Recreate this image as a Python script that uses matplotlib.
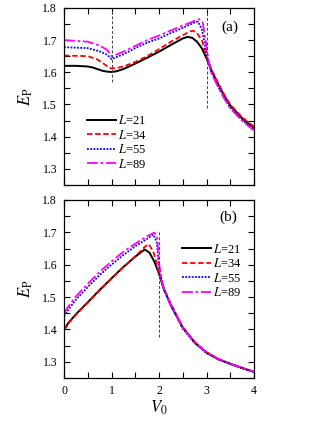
import matplotlib
matplotlib.use("Agg")
import matplotlib.pyplot as plt
from matplotlib.ticker import MultipleLocator

plt.rcParams['font.family'] = ['Liberation Serif', 'DejaVu Serif']
plt.rcParams['mathtext.fontset'] = 'stix'

labels = [r'$L$=21', r'$L$=34', r'$L$=55', r'$L$=89']

# Panel (a)
a_v21 = [0, 0.25, 0.5, 0.6, 0.7, 0.8, 0.9, 1.0, 1.1, 1.25, 1.5, 1.75, 2.0, 2.25, 2.5, 2.6, 2.7, 2.8, 2.9, 3.0, 3.1, 3.25, 3.375, 3.5, 3.75, 4.0]
a_e21 = [1.620, 1.620, 1.618, 1.615, 1.610, 1.605, 1.602, 1.601, 1.603, 1.610, 1.627, 1.645, 1.664, 1.685, 1.705, 1.710, 1.707, 1.695, 1.675, 1.643, 1.607, 1.562, 1.527, 1.497, 1.457, 1.427]
a_v34 = [0, 0.5, 0.7, 0.85, 0.95, 1.0, 1.1, 1.25, 1.5, 1.75, 2.0, 2.25, 2.5, 2.65, 2.72, 2.8, 2.9, 3.0, 3.1, 3.25, 3.375, 3.5, 3.75, 4.0]
a_e34 = [1.652, 1.650, 1.640, 1.625, 1.614, 1.612, 1.613, 1.618, 1.632, 1.650, 1.672, 1.695, 1.715, 1.727, 1.729, 1.722, 1.700, 1.648, 1.610, 1.565, 1.530, 1.500, 1.460, 1.431]
a_v55 = [0, 0.5, 0.75, 0.9, 0.97, 1.0, 1.05, 1.25, 1.5, 1.75, 2.0, 2.25, 2.5, 2.75, 2.82, 2.9, 2.95, 3.0, 3.1, 3.25, 3.375, 3.5, 3.75, 4.0]
a_e55 = [1.678, 1.675, 1.665, 1.655, 1.646, 1.641, 1.644, 1.656, 1.675, 1.692, 1.705, 1.722, 1.738, 1.755, 1.757, 1.735, 1.700, 1.655, 1.602, 1.555, 1.521, 1.491, 1.452, 1.422]
a_v89 = [0, 0.5, 0.75, 0.9, 0.97, 1.0, 1.05, 1.25, 1.5, 1.75, 2.0, 2.25, 2.5, 2.75, 2.85, 2.92, 2.98, 3.05, 3.1, 3.25, 3.375, 3.5, 3.75, 4.0]
a_e89 = [1.700, 1.695, 1.683, 1.670, 1.658, 1.650, 1.652, 1.664, 1.682, 1.700, 1.714, 1.730, 1.745, 1.760, 1.765, 1.755, 1.700, 1.630, 1.598, 1.552, 1.518, 1.488, 1.449, 1.419]

# Panel (b)
b_v21 = [0, 0.1, 0.25, 0.5, 0.75, 1.0, 1.25, 1.5, 1.7, 1.8, 1.9, 2.0, 2.1, 2.25, 2.5, 2.75, 3.0, 3.25, 3.5, 3.75, 4.0]
b_e21 = [1.400, 1.422, 1.447, 1.484, 1.522, 1.558, 1.593, 1.625, 1.647, 1.637, 1.610, 1.572, 1.525, 1.475, 1.405, 1.360, 1.328, 1.308, 1.294, 1.281, 1.269]
b_v34 = [0, 0.1, 0.25, 0.5, 0.75, 1.0, 1.25, 1.5, 1.7, 1.78, 1.88, 1.95, 2.0, 2.1, 2.25, 2.5, 2.75, 3.0, 3.25, 3.5, 3.75, 4.0]
b_e34 = [1.398, 1.420, 1.445, 1.483, 1.521, 1.557, 1.592, 1.626, 1.655, 1.664, 1.640, 1.605, 1.572, 1.527, 1.478, 1.408, 1.362, 1.330, 1.309, 1.294, 1.281, 1.269]
b_v55 = [0, 0.1, 0.25, 0.5, 0.75, 1.0, 1.25, 1.5, 1.75, 1.88, 1.95, 2.0, 2.05, 2.1, 2.25, 2.5, 2.75, 3.0, 3.25, 3.5, 3.75, 4.0]
b_e55 = [1.440, 1.463, 1.492, 1.531, 1.568, 1.600, 1.630, 1.657, 1.680, 1.693, 1.672, 1.595, 1.555, 1.525, 1.473, 1.403, 1.358, 1.327, 1.307, 1.293, 1.280, 1.268]
b_v89 = [0, 0.1, 0.25, 0.5, 0.75, 1.0, 1.25, 1.5, 1.75, 1.9, 1.96, 2.0, 2.05, 2.1, 2.25, 2.5, 2.75, 3.0, 3.25, 3.5, 3.75, 4.0]
b_e89 = [1.450, 1.473, 1.502, 1.541, 1.578, 1.610, 1.640, 1.665, 1.688, 1.699, 1.688, 1.605, 1.555, 1.525, 1.474, 1.405, 1.360, 1.329, 1.309, 1.294, 1.281, 1.269]

colors = ['black', '#ff0000', '#0000ff', '#ff00ff']
styles = ['-', (0, (3, 1.5)), (0, (1, 0.8)), (0, (6, 1.5, 1.5, 1.5))]
widths = [1.4, 1.3, 1.3, 1.3]

fig = plt.figure(figsize=(3.32, 4.30), dpi=100)
axa = fig.add_axes([0.193, 0.570, 0.572, 0.4116])
axb = fig.add_axes([0.193, 0.121, 0.572, 0.414])

def style_ax(ax):
    ax.set_xlim(0, 4)
    ax.set_ylim(1.25, 1.8)
    ax.xaxis.set_major_locator(MultipleLocator(1))
    ax.xaxis.set_minor_locator(MultipleLocator(0.5))
    ax.yaxis.set_major_locator(MultipleLocator(0.1))
    ax.yaxis.set_minor_locator(MultipleLocator(0.05))
    ax.tick_params(which='both', direction='in', top=True, right=True,
                   length=4, width=0.8, labelsize=8.5, pad=5)
    for s in ax.spines.values():
        s.set_linewidth(0.9)
    ax.set_ylabel(r'$E_{\mathrm{P}}$', fontsize=12, labelpad=5)

a_data = [(a_v21, a_e21), (a_v34, a_e34), (a_v55, a_e55), (a_v89, a_e89)]
b_data = [(b_v21, b_e21), (b_v34, b_e34), (b_v55, b_e55), (b_v89, b_e89)]

for (v, e), c, ls, lw, lab in zip(a_data, colors, styles, widths, labels):
    axa.plot(v, e, color=c, linestyle=ls, linewidth=lw, label=lab)
for (v, e), c, ls, lw, lab in zip(b_data, colors, styles, widths, labels):
    axb.plot(v, e, color=c, linestyle=ls, linewidth=lw, label=lab)

axa.plot([1, 1], [1.57, 1.8], color='#444444', linestyle=(0, (3, 2)), linewidth=0.7)
axa.plot([3, 3], [1.49, 1.8], color='#444444', linestyle=(0, (3, 2)), linewidth=0.7)
axb.plot([2, 2], [1.377, 1.708], color='#444444', linestyle=(0, (3, 2)), linewidth=0.7)

style_ax(axa)
style_ax(axb)
axa.tick_params(labelbottom=False)
axb.set_xlabel(r'$V_0$', fontsize=12, labelpad=1)

axa.text(0.874, 0.893, '(a)', transform=axa.transAxes, fontsize=11, ha='center', va='center')
axb.text(0.863, 0.904, '(b)', transform=axb.transAxes, fontsize=11, ha='center', va='center')

axa.legend(loc='upper left', bbox_to_anchor=(0.121, 0.40), frameon=False, fontsize=9,
           handlelength=2.3, handletextpad=0.15, labelspacing=0.12, borderaxespad=0, borderpad=0)
axb.legend(loc='upper left', bbox_to_anchor=(0.621, 0.76), frameon=False, fontsize=9,
           handlelength=2.3, handletextpad=0.15, labelspacing=0.12, borderaxespad=0, borderpad=0)

fig.savefig('out.png', dpi=100)
